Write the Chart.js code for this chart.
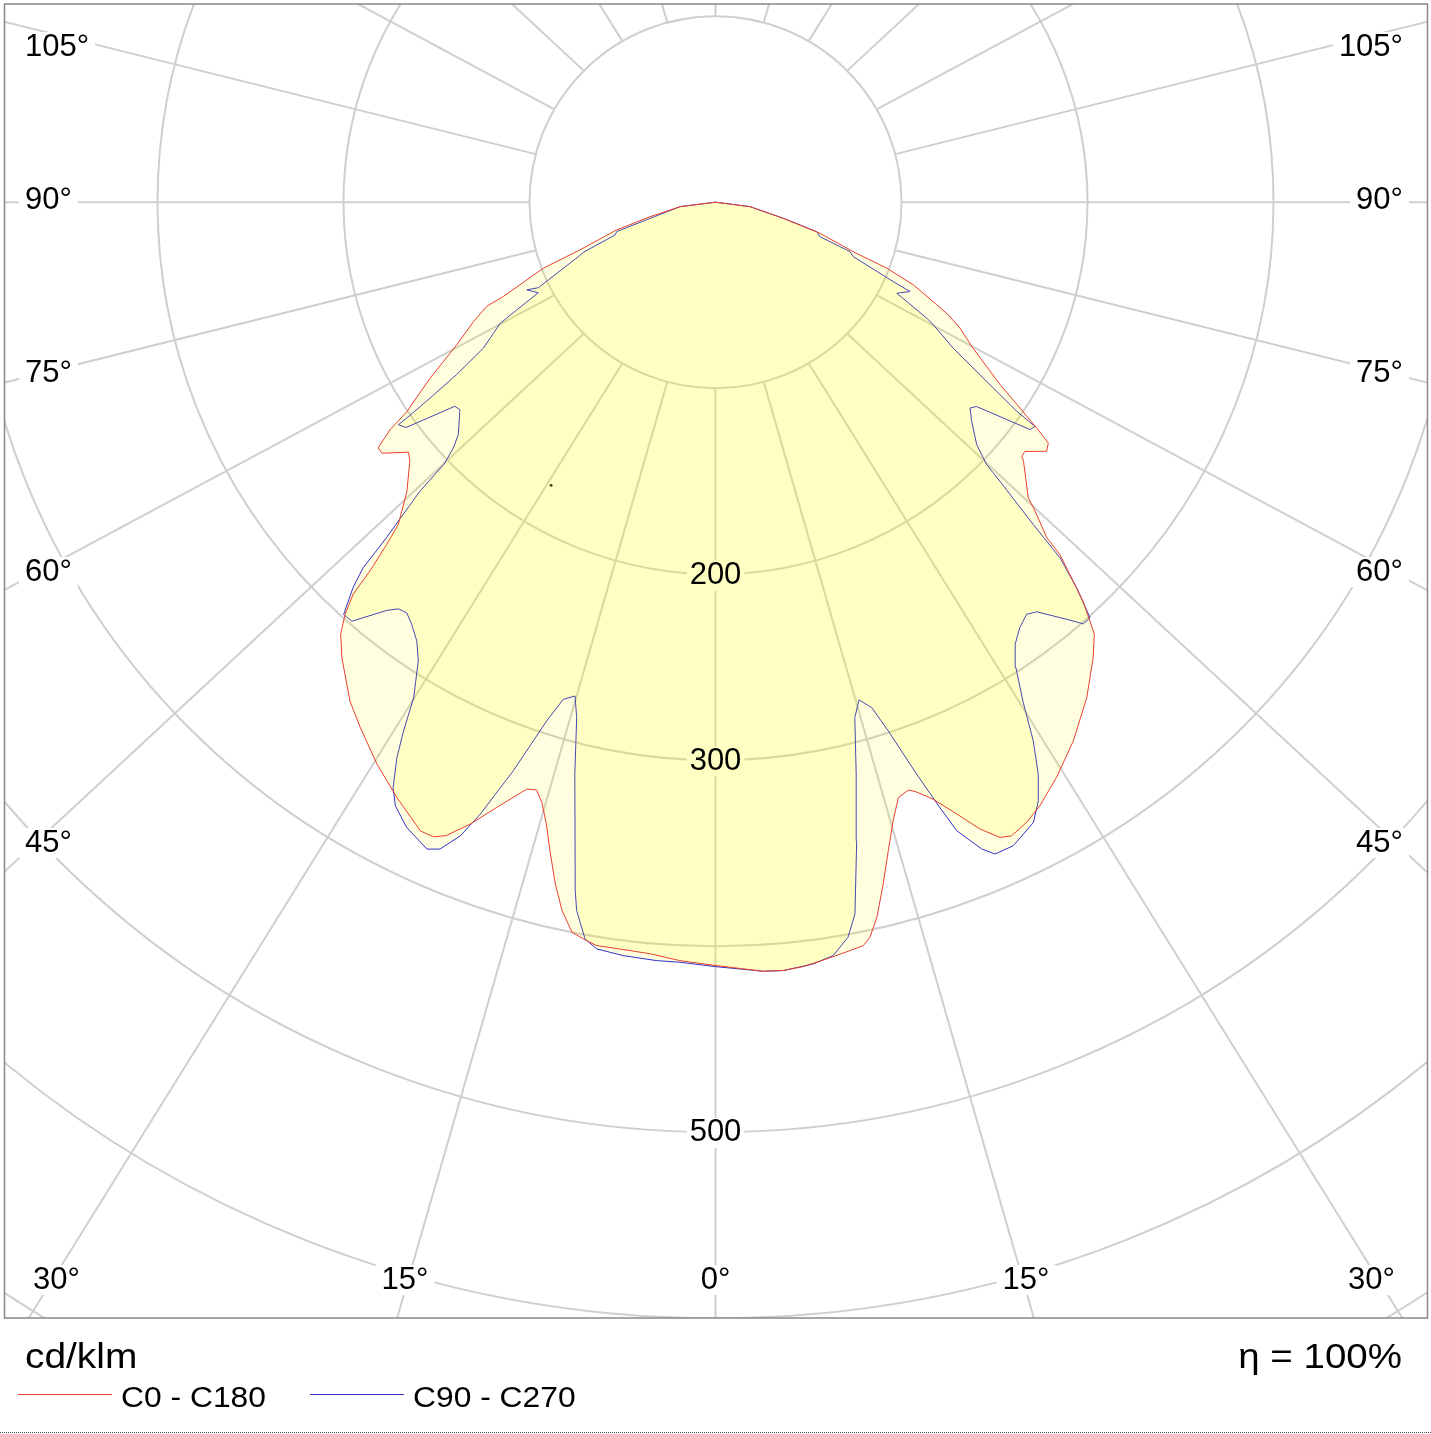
<!DOCTYPE html>
<html>
<head>
<meta charset="utf-8">
<script src="https://cdn.jsdelivr.net/npm/chart.js@4.4.0/dist/chart.umd.min.js"></script>
<style>
html,body{margin:0;padding:0;background:#fff;}
#wrap{width:1431px;height:1434px;position:relative;}
canvas{display:block;}
</style>
</head>
<body>
<div id="wrap"><canvas id="c" width="1431" height="1434"></canvas></div>
<script>
// ---------- DATA (gamma in degrees, negative = left half; value in cd/klm) ----------
const redLabel = 'C0 - C180';
const redGamma = [-90,-82.8,-77.5,-74.3,-70.6,-69.0,-66.0,-65.5,-63.7,-61.1,-58.3,-55.8,-55.0,-53.9,-53.0,-50.8,-49.7,-46.8,-44.5,-43.8,-43.1,-42.7,-41.9,-40.9,-39.3,-36.2,-34.0,-31.0,-28.1,-25.1,-23.9,-23.0,-21.5,-19.85,-17.8,-16.9,-16.1,-15.2,-14.3,-13.2,-12.2,-11.1,-9.9,-9.1,-6.5,-5.0,-2.7,0,
  3.55,5.04,6.54,8.6,10.17,11.23,11.85,12.7,13.8,14.9,16.0,17.05,18.13,18.68,20.0,21.5,22.85,24.1,25.0,26.6,28.2,30.6,33.55,36.8,39.6,41.2,41.75,42.6,43.3,44.3,44.6,46.1,46.56,49.9,50.3,51.1,53.0,54.06,54.85,55.9,57.3,60.4,62.7,64.15,65.1,67.3,68.9,70.2,73.4,76.6,82.6,90];
const redValue = [0,19.2,36.1,55.2,77.3,99.2,124.9,135.2,145.2,158.9,180.4,200.6,213.6,224.5,224.6,213.0,215.5,227.6,243.3,255.4,272.0,287.3,298.2,307.8,317.1,332.8,341.4,353.2,363.5,373.9,373.8,370.5,359.9,346.5,331.9,330.8,336.5,346.9,360.4,377.1,390.3,400.6,403.6,405.3,405.6,406.2,408.8,411.0,
  414.9,415.3,414.3,411.5,409.4,408.1,404.4,394.7,378.0,361.3,346.5,335.3,333.1,334.9,342.1,354.1,366.3,374.7,376.5,373.5,368.9,360.0,348.1,333.2,318.5,309.2,302.3,291.9,280.4,265.1,253.7,237.3,231.6,216.5,214.1,213.7,222.9,221.0,211.2,197.7,181.8,159.3,147.9,139.1,131.1,115.3,98.7,78.7,58.6,37.5,18.7,0];

const blueLabel = 'C90 - C270';
const blueGamma = [-90,-82.8,-76.1,-73.4,-71.9,-69.2,-68.3,-64.2,-65.06,-62.9,-61.5,-60.6,-59.4,-57.8,-56.3,-55.5,-55.0,-54.9,-53.9,-51.9,-50.9,-47.85,-46.8,-45.97,-45.6,-44.4,-43.9,-43.2,-42.0,-40.9,-38.8,-37.9,-36.9,-35.7,-34.2,-32.9,-31.3,-30.5,-29.8,-28.8,-27.9,-26.25,-24.0,-23.04,-21.9,-21.0,-19.55,-18.0,-17.0,-15.86,-15.05,-13.8,-11.5,-11.07,-10.03,-9.03,-6.97,-4.43,-2.67,0,
  3.55,5.04,7.3,8.87,10.2,11.07,12.45,13.8,15.1,16.06,17.15,18.07,19.35,20.3,20.97,22.34,23.18,24.8,27.1,28.3,29.4,30.5,31.6,32.8,34.1,35.5,37.0,38.06,40.05,41.06,41.98,43.08,44.05,44.55,45.5,45.9,47.1,49.4,51.0,51.9,54.1,54.9,55.2,56.5,58.4,60.6,61.2,63.3,65.3,65.9,68.4,69.8,71.7,73.75,76.6,82.6,90];
const blueValue = [0,19.2,36.3,55.4,56.8,76.0,79.4,105.8,111.9,107.0,121.6,132.9,138.7,147.5,167.3,186.2,202.7,208.4,205.9,178.1,177.1,186.5,193.4,203.0,222.4,252.8,273.2,284.7,298.8,298.5,282.0,277.5,276.5,279.9,285.7,294.2,312.4,330.5,344.7,359.8,367.8,375.4,381.3,378.5,367.7,353.0,324.9,293.7,279.9,276.4,287.4,317.1,378.3,388.7,402.8,407.1,408.7,409.6,409.7,411.6,
  414.9,415.3,413.5,410.5,402.2,390.5,352.1,317.1,287.5,278.9,284.8,299.5,326.4,347.5,362.4,376.5,381.8,381.7,375.2,366.1,353.5,336.6,315.4,298.2,287.4,281.6,277.9,280.1,293.4,301.1,301.0,284.3,266.4,243.5,214.4,203.0,191.7,181.4,176.1,178.3,208.8,209.9,197.3,174.8,150.1,134.4,129.6,109.1,115.1,104.7,79.7,77.0,59.2,56.7,37.5,18.7,0];

const strayGamma = [-30.1];
const strayValue = [176.2];

const ringValues = [100,200,300,400,500,600,700,800];
const ringLabelValues = [200,300,500];
const spokeAngles = [-165,-150,-135,-120,-105,-90,-75,-60,-45,-30,-15,0,15,30,45,60,75,90,105,120,135,150,165,180];
const angleLabelAngles = [-105,-90,-75,-60,-45,-30,-15,0,15,30,45,60,75,90,105];
const unitText = 'cd/klm';
const efficiencyText = '\u03B7 = 100%';

// ---------- LAYOUT / STYLE ----------
const CENTER_PX = {x: 715.5, y: 200.5};
const PX_PER_UNIT = 1.86;
const PAD = {left: 5, right: 4, top: 2, bottom: 116};
const W = 1431, H = 1434;
const AREA = {left: PAD.left, right: W - PAD.right, top: PAD.top, bottom: H - PAD.bottom};
const SPOKE_ASPECT = 0.93;
const LABEL_ASPECT = 0.96;
const GRID = '#cfcfcf';
const RED = 'rgb(232,64,48)';
const BLUE = 'rgb(48,48,200)';
const FILL = 'rgba(255,255,0,0.12)';
const FONT = '"Liberation Sans", Arial, sans-serif';

function toXY(g, v) {
  const a = g * Math.PI / 180;
  return {x: v * Math.sin(a), y: -v * Math.cos(a)};
}
function series(gs, vs) { return gs.map((g, i) => toXY(g, vs[i])); }

function wideText(ctx, text, x, y, align, sx) {
  const w = ctx.measureText(text).width * sx;
  let x0 = align === 'right' ? x - w : align === 'center' ? x - w / 2 : x;
  ctx.save();
  ctx.translate(x0, y);
  ctx.scale(sx, 1);
  ctx.textAlign = 'left';
  ctx.fillText(text, 0, 0);
  ctx.restore();
}

const gridPlugin = {
  id: 'polarGrid',
  beforeDraw(chart) {
    const ctx = chart.ctx, sx = chart.scales.x, sy = chart.scales.y, ca = chart.chartArea;
    const P = (x, y) => [sx.getPixelForValue(x), sy.getPixelForValue(y)];
    ctx.save();
    ctx.fillStyle = '#fff';
    ctx.fillRect(0, 0, chart.width, chart.height);
    ctx.beginPath();
    ctx.rect(ca.left, ca.top, ca.right - ca.left, ca.bottom - ca.top);
    ctx.clip();
    ctx.strokeStyle = GRID;
    ctx.lineWidth = 2;
    const [cx, cy] = P(0, 0);
    ringValues.forEach(v => {
      const r = sx.getPixelForValue(v) - cx;
      ctx.beginPath();
      ctx.arc(cx, cy, r, 0, Math.PI * 2);
      ctx.stroke();
    });
    spokeAngles.forEach(g => {
      const a = g * Math.PI / 180;
      const s = toXY(g, ringValues[0]);
      const dir = {x: Math.sin(a), y: -Math.cos(a) * SPOKE_ASPECT};
      const e = {x: s.x + dir.x * 2000, y: s.y + dir.y * 2000};
      const [x1, y1] = P(s.x, s.y), [x2, y2] = P(e.x, e.y);
      ctx.beginPath();
      ctx.moveTo(x1, y1);
      ctx.lineTo(x2, y2);
      ctx.stroke();
    });
    ctx.fillStyle = '#fff';
    ctx.font = '31px ' + FONT;
    allLabels(chart).forEach(L => {
      const w = ctx.measureText(L.text).width;
      let x0 = L.align === 'left' ? L.x : L.align === 'right' ? L.x - w : L.x - w / 2;
      ctx.fillRect(x0 - L.padX, L.y - 14 - L.padY, w + 2 * L.padX, 28 + 2 * L.padY);
    });
    ctx.restore();
  },
  afterDatasetsDraw(chart) {
    const ctx = chart.ctx;
    ctx.save();
    ctx.fillStyle = '#000';
    ctx.font = '31px ' + FONT;
    ctx.textBaseline = 'middle';
    allLabels(chart).forEach(L => {
      ctx.textAlign = L.align;
      ctx.fillText(L.text, L.x, L.y);
    });
    ctx.restore();
  },
  afterDraw(chart) {
    const ctx = chart.ctx, ca = chart.chartArea;
    ctx.save();
    ctx.strokeStyle = '#888';
    ctx.lineWidth = 1.5;
    ctx.strokeRect(ca.left - 0.5, ca.top, ca.right - ca.left + 1, ca.bottom - ca.top);
    ctx.fillStyle = '#000';
    ctx.textBaseline = 'alphabetic';
    ctx.font = '35px ' + FONT;
    wideText(ctx, unitText, ca.left + 20, ca.bottom + 50, 'left', 1.11);
    wideText(ctx, efficiencyText, ca.right - 25, ca.bottom + 50, 'right', 1.1);
    const items = [{label: redLabel, color: RED, x: 18}, {label: blueLabel, color: BLUE, x: 310}];
    const ly = ca.bottom + 76.5;
    ctx.font = '30px ' + FONT;
    items.forEach(it => {
      ctx.strokeStyle = it.color;
      ctx.lineWidth = 1;
      ctx.beginPath();
      ctx.moveTo(it.x, ly);
      ctx.lineTo(it.x + 94, ly);
      ctx.stroke();
      wideText(ctx, it.label, it.x + 103, ly + 12, 'left', 1.06);
    });
    ctx.strokeStyle = '#555';
    ctx.lineWidth = 1;
    ctx.setLineDash([1, 1]);
    ctx.beginPath();
    ctx.moveTo(0, chart.height - 1.5);
    ctx.lineTo(chart.width, chart.height - 1.5);
    ctx.stroke();
    ctx.restore();
  }
};

function allLabels(chart) {
  const sx = chart.scales.x, sy = chart.scales.y, ca = chart.chartArea;
  const cx = sx.getPixelForValue(0), cy = sy.getPixelForValue(0);
  const out = [];
  ringLabelValues.forEach(v => {
    out.push({text: String(v), x: cx, y: sy.getPixelForValue(-v) + 2, align: 'center', padX: 3, padY: 1});
  });
  const ctx = chart.ctx;
  ctx.save();
  ctx.font = '31px ' + FONT;
  angleLabelAngles.forEach(g => {
    const a = Math.abs(g) * Math.PI / 180, s = Math.sign(g);
    const text = Math.abs(g) + '\u00B0';
    const w = ctx.measureText(text).width;
    if (Math.abs(g) <= 30) {
      const y = ca.bottom - 38;
      let x = cx + s * (y - cy) * Math.tan(a) / SPOKE_ASPECT;
      x = Math.max(ca.left + 28 + w / 2, Math.min(ca.right - 32 - w / 2, x));
      out.push({text, x, y, align: 'center', padX: 6, padY: 1});
    } else {
      let y = cy + (cx - ca.left - 43) * LABEL_ASPECT / Math.tan(a);
      if (Math.abs(g) === 90) y = cy - 2;
      y = Math.max(ca.top + 43, y);
      if (s < 0) out.push({text, x: ca.left + 20, y, align: 'left', padX: 6, padY: 1});
      else out.push({text, x: ca.right - 24, y, align: 'right', padX: 6, padY: 1});
    }
  });
  ctx.restore();
  return out;
}

const xMin = (AREA.left - CENTER_PX.x) / PX_PER_UNIT;
const xMax = (AREA.right - CENTER_PX.x) / PX_PER_UNIT;
const yMax = (CENTER_PX.y - AREA.top) / PX_PER_UNIT;
const yMin = (CENTER_PX.y - AREA.bottom) / PX_PER_UNIT;

new Chart(document.getElementById('c'), {
  type: 'line',
  data: {
    datasets: [
      {label: redLabel, data: series(redGamma, redValue), borderColor: RED, backgroundColor: FILL, borderWidth: 1, pointRadius: 0, tension: 0, fill: 'shape'},
      {label: blueLabel, data: series(blueGamma, blueValue), borderColor: BLUE, backgroundColor: FILL, borderWidth: 1, pointRadius: 0, tension: 0, fill: 'shape'},
      {label: 'mark', data: series(strayGamma, strayValue), showLine: false, pointRadius: 1.4, pointBackgroundColor: '#000', pointBorderWidth: 0, fill: false}
    ]
  },
  options: {
    responsive: false,
    animation: false,
    devicePixelRatio: 1,
    layout: {padding: PAD},
    scales: {
      x: {type: 'linear', min: xMin, max: xMax, display: false},
      y: {type: 'linear', min: yMin, max: yMax, display: false}
    },
    plugins: {legend: {display: false}, tooltip: {enabled: false}}
  },
  plugins: [gridPlugin]
});
</script>
</body>
</html>
